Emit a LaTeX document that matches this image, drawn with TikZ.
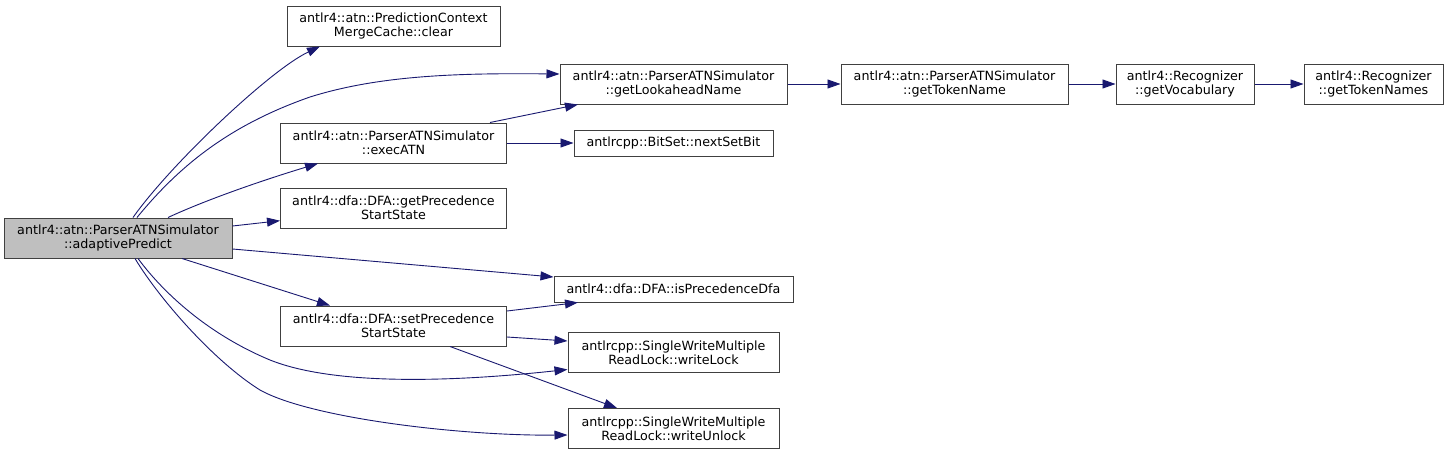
\documentclass[tikz,border=0pt]{standalone}
\usepackage{fontspec}
\setmainfont{DejaVu Sans}
\usetikzlibrary{arrows.meta}
\definecolor{edgeblue}{HTML}{191970}
\definecolor{bordergray}{HTML}{404040}
\definecolor{mainfill}{HTML}{BFBFBF}
\begin{document}
\begin{tikzpicture}[x=1pt,y=-1pt,
  box/.style={draw=bordergray, line width=1pt, fill=white, inner sep=0pt, align=center,
    font=\fontsize{12.7}{14.3}\selectfont, minimum height=40pt},
  onebox/.style={box, minimum height=26pt},
  edge/.style={draw=edgeblue, line width=0.9pt, -{Triangle[length=13pt,width=9pt]}}]
\useasboundingbox[fill=white] (0,0) rectangle (1449,455);

\node[box, fill=mainfill, minimum width=228pt] (A) at (118,238) {antlr4::atn::ParserATNSimulator\\::adaptivePredict};
\node[box, minimum width=213pt] (B) at (393.5,26) {antlr4::atn::PredictionContext\\MergeCache::clear};
\node[box, minimum width=227pt] (C) at (673.5,84) {antlr4::atn::ParserATNSimulator\\::getLookaheadName};
\node[box, minimum width=226pt] (D) at (393.5,143) {antlr4::atn::ParserATNSimulator\\::execATN};
\node[onebox, minimum width=199pt] (E) at (673.5,143) {antlrcpp::BitSet::nextSetBit};
\node[box, minimum width=226pt] (F) at (393.5,208) {antlr4::dfa::DFA::getPrecedence\\StartState};
\node[onebox, minimum width=239pt] (G) at (673.5,289) {antlr4::dfa::DFA::isPrecedenceDfa};
\node[box, minimum width=226pt] (H) at (393.5,326) {antlr4::dfa::DFA::setPrecedence\\StartState};
\node[box, minimum width=211pt] (I) at (673.5,352.5) {antlrcpp::SingleWriteMultiple\\ReadLock::writeLock};
\node[box, minimum width=211pt] (J) at (673.5,428.5) {antlrcpp::SingleWriteMultiple\\ReadLock::writeUnlock};
\node[box, minimum width=227pt] (K) at (954.5,84) {antlr4::atn::ParserATNSimulator\\::getTokenName};
\node[box, minimum width=138pt] (L) at (1185,84) {antlr4::Recognizer\\::getVocabulary};
\node[box, minimum width=139pt] (M) at (1373.5,84) {antlr4::Recognizer\\::getTokenNames};

% from adaptivePredict
\draw[edge] ([xshift=15pt]A.north) .. controls (170,165) and (270,70) .. ([xshift=-73.5pt]B.south);
\draw[edge] ([xshift=19pt]A.north) .. controls (180,165) and (230,125) .. (310,97)
            .. controls (380,75) and (460,73) .. ([yshift=10pt]C.west);
\draw[edge] ([xshift=50pt]A.north) .. controls (210,198) and (270,178) .. ([xshift=-75.5pt]D.south);
\draw[edge] ([yshift=12pt]A.east) -- ([yshift=-12.7pt]F.west);
\draw[edge] ([yshift=-11pt]A.east) -- ([yshift=12pt]G.west);
\draw[edge] ([xshift=64pt]A.south) -- ([xshift=-63.5pt]H.north);
\draw[edge] ([xshift=20pt]A.south) .. controls (165,295) and (210,335) .. (270,360)
            .. controls (340,388) and (470,380) .. ([yshift=-17pt]I.west);
\draw[edge] ([xshift=17pt]A.south) .. controls (160,300) and (215,362) .. (260,390)
            .. controls (310,418) and (460,436) .. ([yshift=-6.5pt]J.west);

% execATN
\draw[edge] ([xshift=96.5pt]D.north) -- ([xshift=-95.5pt]C.south);
\draw[edge] (D.east) -- (E.west);

% setPrecedenceStartState
\draw[edge] ([yshift=15pt]H.east) -- ([xshift=-95.5pt]G.south);
\draw[edge] ([yshift=-11pt]H.east) -- ([yshift=11.5pt]I.west);
\draw[edge] ([xshift=56.5pt]H.south) -- ([xshift=-56.5pt]J.north);

% chain
\draw[edge] (C.east) -- (K.west);
\draw[edge] (K.east) -- (L.west);
\draw[edge] (L.east) -- (M.west);
\end{tikzpicture}
\end{document}
